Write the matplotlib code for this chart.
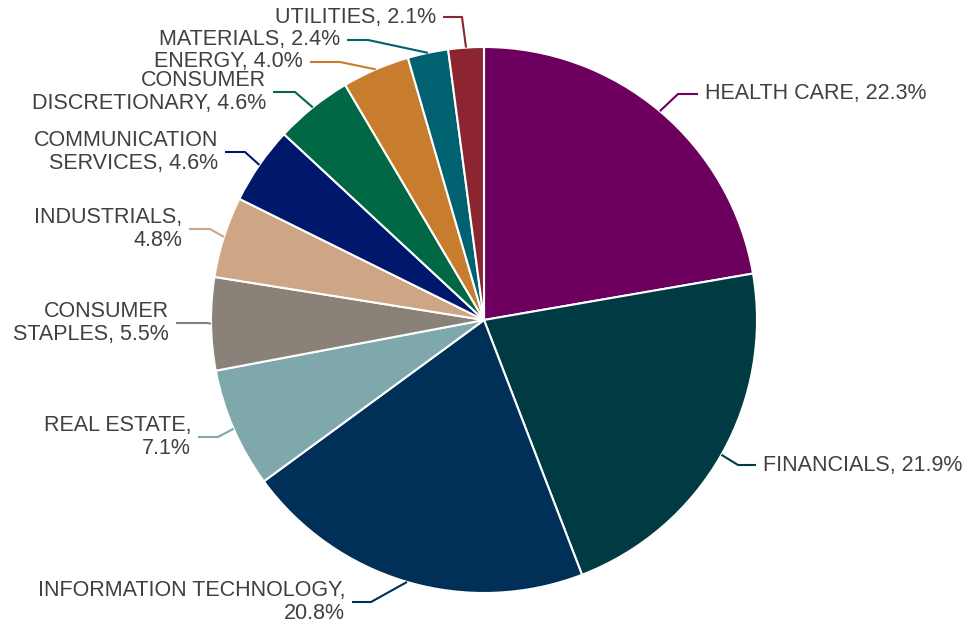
import numpy as np
import matplotlib.pyplot as plt

# sector weights, clockwise from 12 o'clock
sectors = ['HEALTH CARE', 'FINANCIALS', 'INFORMATION TECHNOLOGY', 'REAL ESTATE',
           'CONSUMER STAPLES', 'INDUSTRIALS', 'COMMUNICATION SERVICES',
           'CONSUMER DISCRETIONARY', 'ENERGY', 'MATERIALS', 'UTILITIES']
weights = [22.3, 21.9, 20.8, 7.1, 5.5, 4.8, 4.6, 4.6, 4.0, 2.4, 2.1]
label_text = ['HEALTH CARE, 22.3%', 'FINANCIALS, 21.9%',
              'INFORMATION TECHNOLOGY,\n20.8%', 'REAL ESTATE,\n7.1%',
              'CONSUMER\nSTAPLES, 5.5%', 'INDUSTRIALS,\n4.8%',
              'COMMUNICATION\nSERVICES, 4.6%', 'CONSUMER\nDISCRETIONARY, 4.6%',
              'ENERGY, 4.0%', 'MATERIALS, 2.4%', 'UTILITIES, 2.1%']
colors = ['#6d005f', '#003a42', '#002f57', '#7fa8ad', '#8a8278', '#cea585',
          '#00186b', '#006845', '#c77c2e', '#006170', '#8c2530']

# label layout in pixels: (elbow x, line end x, line y)
layout = [(678, 698, 94), (738, 756, 465), (371, 352, 602), (218, 198, 437),
          (208, 176, 323), (210, 189, 229), (245, 225, 152), (295, 273, 92),
          (340, 310, 62), (368, 347, 40), (462, 443, 17)]

W, H = 972, 624
cx, cy, R = 484, 320, 273

plt.rcParams['font.family'] = ['Liberation Sans', 'DejaVu Sans']
fig = plt.figure(figsize=(W / 100, H / 100), dpi=100)
ax = fig.add_axes([0, 0, 1, 1])

wedges, _ = ax.pie(weights, colors=colors, startangle=90, counterclock=False,
                   center=(cx, H - cy), radius=R,
                   wedgeprops=dict(edgecolor='white', linewidth=1.5))
ax.set_xlim(0, W)
ax.set_ylim(0, H)
ax.set_aspect('equal')
ax.axis('off')

for w, txt, col, (ex, lx, ly) in zip(wedges, label_text, colors, layout):
    mid = np.deg2rad((w.theta1 + w.theta2) / 2)
    sx = cx + R * np.cos(mid)
    sy = (H - cy) + R * np.sin(mid)
    ax.plot([sx, ex, lx], [sy, H - ly, H - ly], color=col, lw=1.5,
            solid_capstyle='butt')
    if lx > ex:
        ax.text(lx + 7, H - ly, txt, ha='left', va='center', fontsize=15.5,
                color='#404040', linespacing=1.08)
    else:
        ax.text(lx - 7, H - ly, txt, ha='right', va='center', fontsize=15.5,
                color='#404040', linespacing=1.08, multialignment='right')

fig.savefig('out.png', dpi=100)
